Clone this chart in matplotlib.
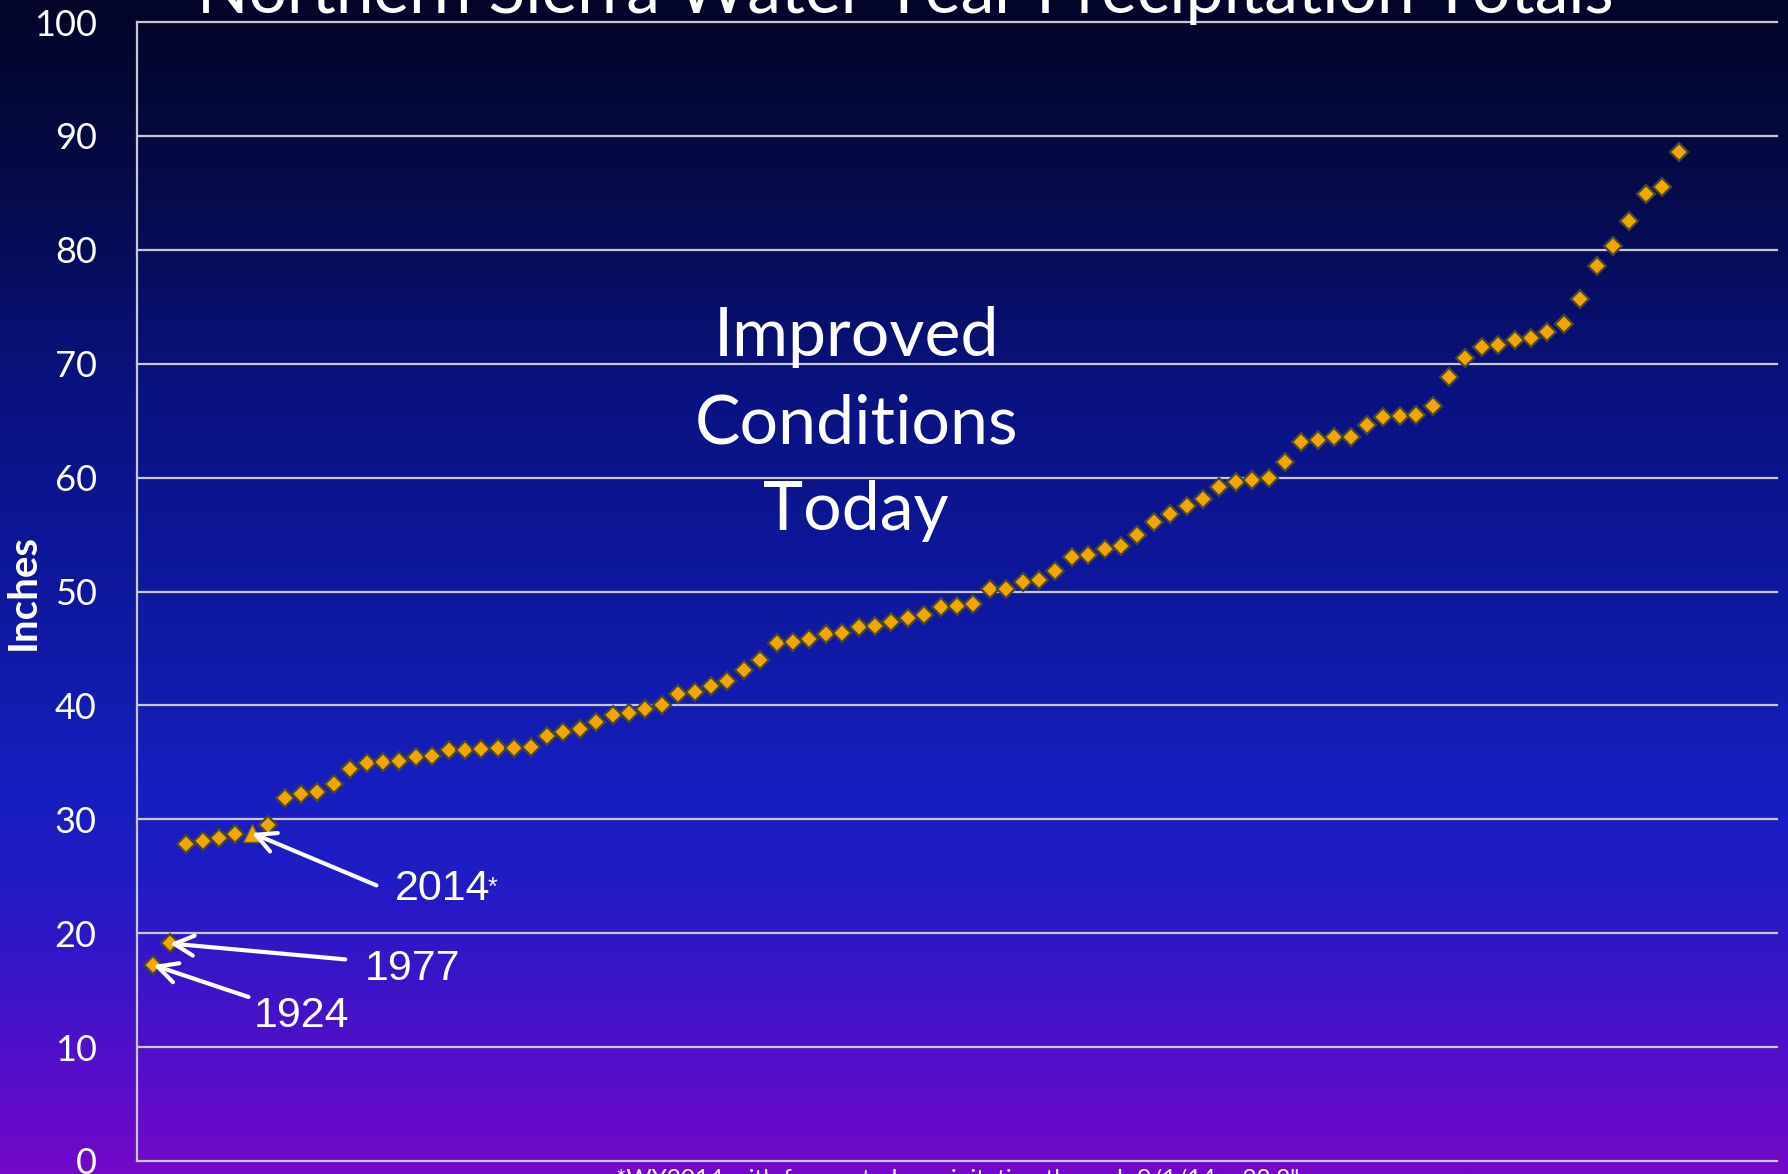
import numpy as np
import matplotlib.pyplot as plt
from matplotlib.colors import LinearSegmentedColormap

# Northern Sierra 8-station index, water year totals sorted low -> high (inches)
totals = [17.2, 19.1, 27.8, 28.1, 28.4, 28.7, 28.8, 29.5, 31.9, 32.25,
          32.4, 33.1, 34.45, 34.9, 35.0, 35.1, 35.5, 35.6, 36.05, 36.1,
          36.2, 36.3, 36.3, 36.35, 37.3, 37.7, 37.9, 38.5, 39.2, 39.35,
          39.7, 40.0, 41.0, 41.2, 41.7, 42.1, 43.1, 44.0, 45.5, 45.6,
          45.8, 46.3, 46.4, 46.9, 47.0, 47.3, 47.7, 47.9, 48.6, 48.7,
          48.9, 50.2, 50.2, 50.8, 51.0, 51.8, 53.0, 53.2, 53.7, 54.0,
          55.0, 56.1, 56.8, 57.5, 58.1, 59.2, 59.6, 59.8, 60.0, 61.4,
          63.1, 63.3, 63.6, 63.6, 64.6, 65.3, 65.4, 65.5, 66.3, 68.8,
          70.5, 71.5, 71.6, 72.1, 72.3, 72.8, 73.5, 75.7, 78.6, 80.3,
          82.5, 84.9, 85.5, 88.6]

# labelled years -> rank (1-based) in the sorted list
labelled_years = ["1924", "1977", "2014"]
labelled_ranks = [1, 2, 7]
forecast_rank = 7  # WY2014 is a forecast, drawn as a triangle

y_ticks = list(range(0, 101, 10))

title = "Northern Sierra Water Year Precipitation Totals"
footnote = '*WY2014 with forecasted precipitation through 9/1/14 = 28.8"'

CAL = ["Lato", "DejaVu Sans"]
ARIAL = ["Liberation Sans", "DejaVu Sans"]

fig = plt.figure(figsize=(17.88, 11.74), dpi=100)

# gradient background (navy -> blue -> purple)
bg = fig.add_axes([0, 0, 1, 1], zorder=0)
stops = [(0.00, (2, 4, 40)), (0.085, (4, 8, 56)), (0.20, (6, 12, 85)),
         (0.33, (10, 18, 128)), (0.46, (13, 22, 150)), (0.60, (18, 28, 175)),
         (0.66, (22, 30, 190)), (0.75, (32, 28, 196)), (0.84, (60, 20, 200)),
         (0.92, (88, 14, 202)), (1.00, (115, 8, 200))]
cmap = LinearSegmentedColormap.from_list(
    "bg", [(s, tuple(c / 255 for c in col)) for s, col in stops])
bg.imshow(np.linspace(0, 1, 512).reshape(-1, 1), aspect="auto", cmap=cmap,
          extent=[0, 1, 0, 1])
bg.set_axis_off()

ax = fig.add_axes([137 / 1788, 1 - 1161 / 1174, 1640 / 1788, 1139 / 1174], zorder=1)
ax.set_facecolor("none")

ranks = np.arange(1, len(totals) + 1)
vals = np.array(totals)
is_fc = ranks == forecast_rank

ax.plot(ranks[~is_fc], vals[~is_fc], linestyle="none", marker="D", ms=9.6,
        mfc="#f0a800", mec="#4a4636", mew=1.6, zorder=4)
ax.plot(ranks[is_fc], vals[is_fc], linestyle="none", marker="^", ms=13,
        mfc="#f0a800", mec="#6a5a30", mew=1.0, zorder=4)

ax.set_xlim(0, 100)
ax.set_ylim(0, 100)
ax.set_xticks([])
ax.set_yticks(y_ticks)
ax.tick_params(axis="y", length=0, pad=29, labelcolor="white", labelsize=26)
for lbl in ax.get_yticklabels():
    lbl.set_family(CAL)
ax.grid(axis="y", color="#c8c8d0", lw=1.6)
for ln in ax.get_ygridlines():
    ln.set_clip_on(False)
for side in ["top", "right", "bottom"]:
    ax.spines[side].set_visible(False)
ax.spines["left"].set_color("#c8c8d0")
ax.spines["left"].set_linewidth(1.6)

ax.set_ylabel("Inches", color="white", fontsize=29, fontweight="bold", family=CAL)
ax.yaxis.set_label_coords(-0.058, 0.5)

# arrows + year labels
text_pos = {"1924": (7.1, 12.7), "1977": (13.9, 16.9), "2014": (15.7, 23.9)}
tail_pos = {"1924": (6.8, 14.4), "1977": (12.7, 17.7), "2014": (14.6, 24.2)}
for yr, rk in zip(labelled_years, labelled_ranks):
    ax.annotate("", xy=(rk, totals[rk - 1]), xytext=tail_pos[yr],
                arrowprops=dict(arrowstyle="->,head_length=0.7,head_width=0.36",
                                color="white", lw=3, mutation_scale=20,
                                shrinkA=0, shrinkB=0), zorder=5)
    tx, ty = text_pos[yr]
    ax.text(tx, ty, yr, color="white", fontsize=31, family=ARIAL,
            ha="left", va="center", zorder=5)
ax.text(21.35, 24.0, "*", color="white", fontsize=18, family=ARIAL,
        ha="left", va="center", zorder=5)

fig.text(856 / 1788, 1 - 424 / 1174, "Improved\nConditions\nToday", color="white",
         fontsize=49, family=CAL, ha="center", va="center", linespacing=1.5,
         zorder=6)

fig.text(905 / 1788, 1 - 13 / 1174, title, color="white", fontsize=48.7,
         family=CAL, ha="center", va="baseline", zorder=6)
fig.text(958 / 1788, 1 - 1169 / 1174, footnote, color="white", fontsize=17.6,
         family=CAL, ha="center", va="top", zorder=6)

fig.savefig("out.png", dpi=100)
